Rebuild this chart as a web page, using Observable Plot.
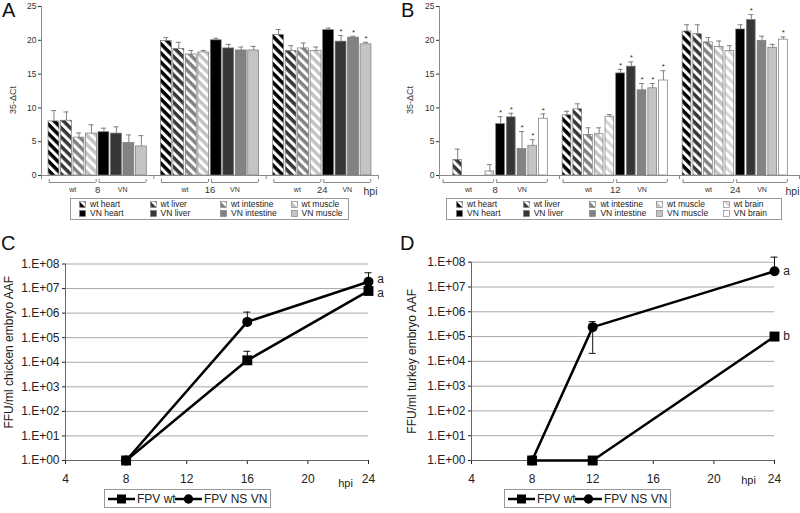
<!DOCTYPE html>
<html><head><meta charset="utf-8">
<script src="https://cdn.jsdelivr.net/npm/d3@7"></script>
<script src="https://cdn.jsdelivr.net/npm/@observablehq/plot@0.6"></script>
<style>
body{margin:0;background:#fff;}
#fig{position:relative;width:800px;height:513px;overflow:hidden;background:#fff;font-family:"Liberation Sans",Arial,sans-serif;color:#222;}
.panel{position:absolute;}
.panel svg{max-width:none;}
.letter{position:absolute;font-size:20px;line-height:20px;color:#111;}
.leg{position:absolute;border:1px solid #999;box-sizing:border-box;background:#fff;}
.item{position:absolute;white-space:nowrap;display:flex;align-items:center;}
</style>
</head><body>
<svg width="0" height="0" style="position:absolute">
<defs id="pats"></defs>
</svg>
<div id="fig"></div>
<script>
// ---------- data ----------
const tissuesA = ["heart", "liver", "intestine", "muscle"];
const hpiA = [8, 16, 24];
const wtA    = [[8.0, 8.1, 5.6, 6.2], [19.9, 18.7, 17.9, 18.2], [20.8, 18.4, 18.8, 18.4]];
const wtSdA  = [[1.6, 1.3, 0.7, 1.3], [0.5, 1.0, 0.6, 0.3], [0.8, 0.8, 0.8, 0.6]];
const vnA    = [[6.4, 6.2, 4.8, 4.3], [20.0, 18.8, 18.5, 18.5], [21.5, 19.8, 20.4, 19.4]];
const vnSdA  = [[0.6, 1.0, 1.2, 1.6], [0.3, 0.6, 0.5, 0.6], [0.3, 0.9, 0.2, 0.3]];
const vnSigA = [[0, 0, 0, 0], [0, 0, 0, 0], [0, 1, 1, 1]];

const tissuesB = ["heart", "liver", "intestine", "muscle", "brain"];
const hpiB = [8, 12, 24];
const wtB    = [[0, 2.3, 0, 0, 0.6], [8.9, 9.8, 6.0, 6.1, 8.7], [21.3, 20.9, 19.7, 19.0, 18.4]];
const wtSdB  = [[0, 1.6, 0, 0, 1.0], [0.6, 0.8, 1.05, 0.95, 0.3], [1.0, 1.4, 0.7, 0.9, 0.8]];
const vnB    = [[7.6, 8.6, 3.9, 4.4, 8.4], [15.1, 16.1, 12.6, 12.9, 14.05], [21.6, 23.0, 19.9, 18.9, 20.1]];
const vnSdB  = [[1.1, 0.6, 2.6, 0.9, 0.7], [0.6, 0.7, 1.0, 0.7, 1.45], [0.7, 0.8, 0.7, 0.5, 0.4]];
const vnSigB = [[1, 1, 1, 1, 1], [1, 1, 1, 1, 1], [0, 1, 0, 0, 1]];
const barTicks = [0, 5, 10, 15, 20, 25];

const hpiC = [8, 16, 24];
const cWt = [1, 1.2e4, 8e6];
const cWtHi = [null, 2.8e4, null];
const cVN = [1, 4.4e5, 1.9e7];
const cVNHi = [null, 1.1e6, 4.4e7];
const cLetters = ["a", "a"];

const hpiD = [8, 12, 24];
const dWt = [1, 1, 1e5];
const dVN = [1, 2.4e5, 4.3e7];
const dVNLo = [null, 2.1e4, null];
const dVNHi = [null, 4.0e5, 1.6e8];
const dLetters = ["b", "a"];

const logTicks = [1, 1e1, 1e2, 1e3, 1e4, 1e5, 1e6, 1e7, 1e8];
const timeTicks = [4, 8, 12, 16, 20, 24];

// ---------- styles ----------
const tone = {heart: "#000000", liver: "#363636", intestine: "#828282", muscle: "#c4c4c4", brain: "#ffffff"};
const defs = document.getElementById("pats");
const NS = "http://www.w3.org/2000/svg";
for (const t of tissuesB) {
  const p = document.createElementNS(NS, "pattern");
  p.setAttribute("id", "p-" + t);
  p.setAttribute("width", 6.5); p.setAttribute("height", 6.5);
  p.setAttribute("patternUnits", "userSpaceOnUse");
  p.setAttribute("patternTransform", "rotate(-45)");
  const bg = document.createElementNS(NS, "rect");
  bg.setAttribute("width", 6.5); bg.setAttribute("height", 6.5);
  bg.setAttribute("fill", t === "brain" ? "#ffffff" : tone[t]);
  const st = document.createElementNS(NS, "rect");
  st.setAttribute("width", 3); st.setAttribute("height", 6.5);
  st.setAttribute("fill", t === "brain" ? "#d6d6d6" : "#ffffff");
  p.appendChild(bg); p.appendChild(st); defs.appendChild(p);
}
const fillFor = (strain, t) => strain === "wt" ? `url(#p-${t})` : tone[t];

const fig = document.getElementById("fig");
function put(el, left, top) {
  el.style.position = "absolute"; el.style.left = left + "px"; el.style.top = top + "px";
  fig.appendChild(el); return el;
}
function letter(txt, left, top) {
  const d = document.createElement("div"); d.className = "letter"; d.textContent = txt; put(d, left, top);
}

// ---------- bar panels ----------
function barPanel(o) {
  const nT = o.tissues.length, GW = o.groupUnits, off = o.offset;
  const rows = [], brackets = [], groups = [];
  o.hpi.forEach((h, g) => {
    ["wt", "VN"].forEach((strain, k) => {
      const vals = k ? o.vn : o.wt, sds = k ? o.vnSd : o.wtSd;
      const a = g * GW + off + k * nT;
      brackets.push({label: strain, x1: a, x2: a + nT, xm: a + nT / 2});
      o.tissues.forEach((t, j) => {
        const left = a + j;
        rows.push({strain, tissue: t, x1: left, x2: left + 1, xc: left + 0.5,
          v: vals[g][j], sd: sds[g][j], top: vals[g][j] + sds[g][j], sig: k ? o.vnSig[g][j] : 0});
      });
    });
    groups.push({label: String(h), xm: g * GW + off + nT});
  });
  const bounds = d3.range(o.hpi.length + 1).map(g => g * GW);
  const zero = () => 0;
  const barMarks = [];
  for (const strain of ["wt", "VN"]) for (const t of o.tissues) {
    barMarks.push(Plot.rect(rows.filter(d => d.strain === strain && d.tissue === t && d.v > 0),
      {x1: "x1", x2: "x2", y1: zero, y2: "v", fill: fillFor(strain, t), stroke: "#777", strokeWidth: 0.7,
       insetLeft: o.inset, insetRight: o.inset}));
  }
  const err = rows.filter(d => d.sd > 0);
  const axisC = "#8a8a8a";
  return Plot.plot({
    width: o.width, height: o.height,
    marginLeft: o.marginLeft, marginRight: o.marginRight, marginTop: o.marginTop, marginBottom: o.marginBottom,
    style: {fontFamily: "Liberation Sans, Arial, sans-serif", fontSize: "8.5px", color: "#333", background: "transparent", overflow: "visible"},
    x: {domain: [0, o.hpi.length * GW], axis: null},
    y: {domain: [0, 25], ticks: barTicks, tickSize: 3, tickPadding: 2, label: null},
    marks: [
      ...barMarks,
      Plot.ruleX(err, {x: "xc", y1: "v", y2: "top", stroke: "#808080", strokeWidth: 1}),
      Plot.ruleY(err, {y: "top", x1: "xc", x2: "xc", insetLeft: -2.5, insetRight: -2.5, stroke: "#808080"}),
      Plot.text(rows.filter(d => d.sig), {x: "xc", y: "top", text: () => "*", dy: -4, fontSize: 8, fill: "#333"}),
      Plot.ruleX([0], {stroke: axisC}),
      Plot.ruleY([0], {stroke: axisC}),
      Plot.ruleX(bounds, {x: d => d, y1: zero, y2: zero, insetTop: 0, insetBottom: -4, stroke: axisC}),
      Plot.ruleY(brackets, {y: zero, x1: "x1", x2: "x2", dy: 7, insetLeft: 1.5, insetRight: 1.5, stroke: axisC}),
      Plot.ruleX(brackets, {x: "x1", y1: zero, y2: zero, dx: 1.5, insetTop: 4, insetBottom: -7, stroke: axisC}),
      Plot.ruleX(brackets, {x: "x2", y1: zero, y2: zero, dx: -1.5, insetTop: 4, insetBottom: -7, stroke: axisC}),
      Plot.text(brackets, {x: "xm", y: zero, text: "label", dy: 14, fontSize: 7, fill: "#333"}),
      Plot.text(groups, {x: "xm", y: zero, text: "label", dy: 14, fontSize: 9.5, fill: "#333"}),
      Plot.text(["hpi"], {frameAnchor: "bottom-right", dx: o.hpiDx, dy: o.hpiDy, textAnchor: o.hpiAnchor, lineAnchor: "middle", fontSize: 10.5, fill: "#333"}),
      Plot.text(["35-ΔCt"], {frameAnchor: "left", rotate: -90, dx: o.labelDx, dy: 9, textAnchor: "middle", lineAnchor: "middle", fontSize: 9, fill: "#333"})
    ]
  });
}

function barLegend(tissues, left, width, colStart, colW) {
  const box = document.createElement("div"); box.className = "leg";
  box.style.width = width + "px"; box.style.height = "22px";
  ["wt", "VN"].forEach((strain, r) => {
    tissues.forEach((t, j) => {
      const it = document.createElement("div"); it.className = "item";
      it.style.left = (colStart + j * colW) + "px"; it.style.top = (r ? 10.3 : 1.3) + "px";
      it.style.fontSize = "8.5px"; it.style.lineHeight = "9px"; it.style.color = "#222";
      it.innerHTML = `<svg width="7" height="7" style="margin-right:4px;overflow:visible"><rect x="0.5" y="0.5" width="6" height="6" fill="${fillFor(strain, t)}" stroke="#777" stroke-width="0.6"/></svg>${strain} ${t}`;
      box.appendChild(it);
    });
  });
  put(box, left, 198);
}

const divA = document.createElement("div"); divA.className = "panel";
divA.appendChild(barPanel({tissues: tissuesA, hpi: hpiA, wt: wtA, wtSd: wtSdA, vn: vnA, vnSd: vnSdA, vnSig: vnSigA,
  groupUnits: 9, offset: 0.5, inset: 0.8, width: 400, height: 200,
  marginLeft: 41, marginRight: 22, marginTop: 6, marginBottom: 25,
  hpiDx: -8, hpiDy: 16, hpiAnchor: "middle", labelDx: -28}));
put(divA, 0, 0);

const divB = document.createElement("div"); divB.className = "panel";
divB.appendChild(barPanel({tissues: tissuesB, hpi: hpiB, wt: wtB, wtSd: wtSdB, vn: vnB, vnSd: vnSdB, vnSig: vnSigB,
  groupUnits: 11.2, offset: 0.2, inset: 1.0, width: 400, height: 200,
  marginLeft: 39, marginRight: 1, marginTop: 6, marginBottom: 25,
  hpiDx: 0, hpiDy: 16, hpiAnchor: "end", labelDx: -29}));
put(divB, 400, 0);

barLegend(tissuesA, 70, 279, 8, 70.5);
barLegend(tissuesB, 446, 336, 9, 66.7);

// ---------- line panels ----------
function linePanel(o) {
  const wtRows = o.hpi.map((h, i) => ({hpi: h, v: o.wt[i]}));
  const vnRows = o.hpi.map((h, i) => ({hpi: h, v: o.vn[i]}));
  const errs = [], caps = [];
  o.hpi.forEach((h, i) => {
    for (const [vals, lo, hi] of [[o.wt, o.wtLo, o.wtHi], [o.vn, o.vnLo, o.vnHi]]) {
      if (!hi || hi[i] == null) continue;
      const l = lo && lo[i] != null ? lo[i] : vals[i];
      errs.push({hpi: h, lo: l, hi: hi[i]});
      caps.push({hpi: h, y: hi[i]});
      if (lo && lo[i] != null) caps.push({hpi: h, y: lo[i]});
    }
  });
  const last = o.hpi.length - 1;
  const letters = [{hpi: o.hpi[last], v: o.wt[last], t: o.letters[0], dy: o.letterDy[0]},
                   {hpi: o.hpi[last], v: o.vn[last], t: o.letters[1], dy: o.letterDy[1]}];
  return Plot.plot({
    width: 400, height: 240,
    marginLeft: o.marginLeft, marginRight: o.marginRight, marginTop: o.marginTop, marginBottom: 30,
    style: {fontFamily: "Liberation Sans, Arial, sans-serif", fontSize: "12px", color: "#222", background: "transparent", overflow: "visible"},
    x: {domain: [4, 24], ticks: timeTicks, tickSize: 4, tickPadding: 10, label: null},
    y: {type: "log", domain: [1, 1e8], ticks: logTicks,
        tickFormat: d => "1.E+" + String(Math.round(Math.log10(d))).padStart(2, "0"),
        tickSize: 3, tickPadding: 3, label: null},
    marks: [
      Plot.ruleY(logTicks.slice(1), {stroke: "#a8a8a8"}),
      Plot.ruleY([1], {stroke: "#666"}),
      Plot.ruleX([4], {stroke: "#666"}),
      Plot.ruleX(errs, {x: "hpi", y1: "lo", y2: "hi", stroke: "#111", strokeWidth: 1}),
      Plot.ruleY(caps, {y: "y", x1: "hpi", x2: "hpi", insetLeft: -3.5, insetRight: -3.5, stroke: "#111"}),
      Plot.line(wtRows, {x: "hpi", y: "v", stroke: "#000", strokeWidth: 2.5}),
      Plot.line(vnRows, {x: "hpi", y: "v", stroke: "#000", strokeWidth: 2.5}),
      Plot.dot(wtRows, {x: "hpi", y: "v", symbol: "square", r: 5.6, fill: "#000"}),
      Plot.dot(vnRows, {x: "hpi", y: "v", symbol: "circle", r: 5, fill: "#000"}),
      Plot.text(letters.slice(0, 1), {x: "hpi", y: "v", text: "t", dx: 12, dy: o.letterDy[0], fontSize: 12, fill: "#222"}),
      Plot.text(letters.slice(1), {x: "hpi", y: "v", text: "t", dx: 12, dy: o.letterDy[1], fontSize: 12, fill: "#222"}),
      Plot.text(["hpi"], {frameAnchor: "bottom-right", dx: o.hpiDx, dy: o.hpiDy, textAnchor: "middle", lineAnchor: "middle", fontSize: 11, fill: "#222"}),
      Plot.text([o.ylabel], {frameAnchor: "left", rotate: -90, dx: o.labelDx, dy: o.labelDy, textAnchor: "middle", lineAnchor: "middle", fontSize: 12, fill: "#222"})
    ]
  });
}

function lineLegend(left) {
  const box = document.createElement("div"); box.className = "leg";
  box.style.width = "167px"; box.style.height = "19px";
  const items = [["FPV wt", "square", 3], ["FPV NS VN", "circle", 70]];
  for (const [label, sym, x] of items) {
    const it = document.createElement("div"); it.className = "item";
    it.style.left = x + "px"; it.style.top = "1px"; it.style.height = "16px";
    it.style.fontSize = "12px"; it.style.color = "#222";
    const mk = sym === "square" ? `<rect x="9" y="0.5" width="9" height="9" fill="#000"/>` : `<circle cx="13.5" cy="5" r="4.7" fill="#000"/>`;
    it.innerHTML = `<svg width="27" height="10" style="margin-right:2px"><line x1="0" x2="27" y1="5" y2="5" stroke="#000" stroke-width="2.5"/>${mk}</svg>${label}`;
    box.appendChild(it);
  }
  put(box, left, 489);
}

const divC = document.createElement("div"); divC.className = "panel";
divC.appendChild(linePanel({hpi: hpiC, wt: cWt, wtHi: cWtHi, vn: cVN, vnHi: cVNHi, letters: cLetters, letterDy: [2.5, -2.5],
  marginLeft: 65, marginRight: 32, marginTop: 13.5, hpiDx: -23, hpiDy: 23,
  ylabel: "FFU/ml chicken embryo AAF", labelDx: -56, labelDy: -10}));
put(divC, 0, 250);

const divD = document.createElement("div"); divD.className = "panel";
divD.appendChild(linePanel({hpi: hpiD, wt: dWt, vn: dVN, vnLo: dVNLo, vnHi: dVNHi, letters: dLetters, letterDy: [0, 0],
  marginLeft: 71, marginRight: 26, marginTop: 11.7, hpiDx: -26, hpiDy: 20,
  ylabel: "FFU/ml turkey embryo AAF", labelDx: -59.5, labelDy: 0}));
put(divD, 400, 250);

lineLegend(104);
lineLegend(504);

letter("A", 2, 0);
letter("B", 401, 0);
letter("C", 1, 233);
letter("D", 400, 233);
</script>
</body></html>
